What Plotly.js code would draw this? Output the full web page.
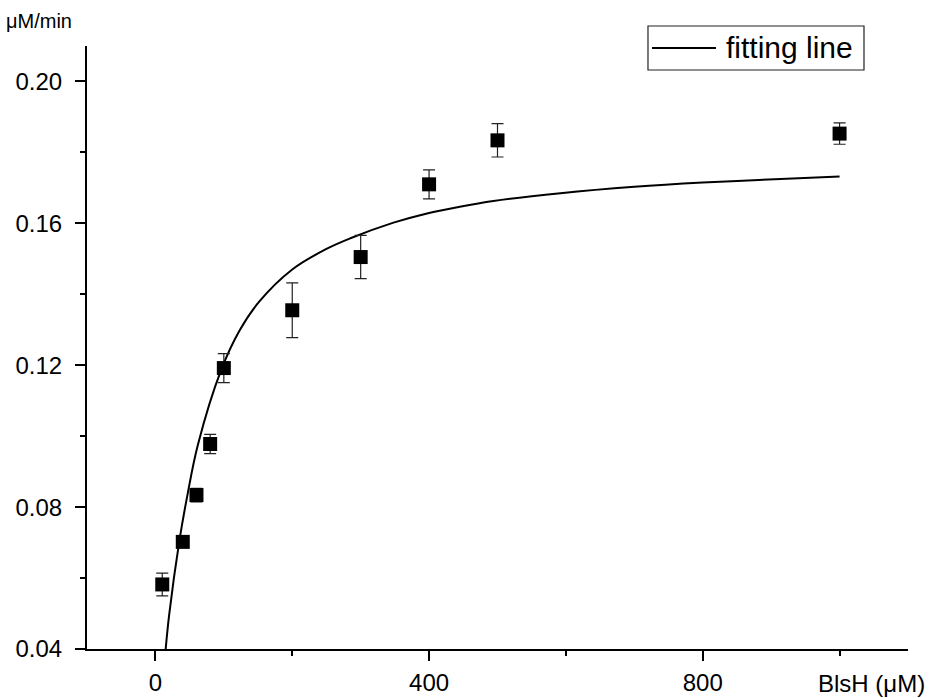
<!DOCTYPE html>
<html>
<head>
<meta charset="utf-8">
<script src="https://cdn.plot.ly/plotly-3.0.1.min.js"></script>
<style>html,body{margin:0;padding:0;background:#fff;}#chart{width:931px;height:698px;}</style>
</head>
<body>
<div id="chart"></div>
<script>
// Measured data (BlsH concentration, µM) and initial rate (µM/min)
const conc = [10, 40, 60, 80, 100, 200, 300, 400, 500, 1000];
const rate = [0.0582, 0.0702, 0.0834, 0.0978, 0.1192, 0.1355, 0.1505, 0.1710, 0.1834, 0.1853];
const rateErr = [0.0032, 0.0015, 0.0019, 0.0027, 0.0041, 0.0077, 0.0061, 0.0041, 0.0047, 0.0030];

// Fitting line
const fitX = [15, 20, 35, 47, 62, 96, 123, 152, 200, 250, 285, 348, 397, 445, 494, 592, 700, 800, 914, 1000];
const fitY = [0.0400, 0.0495, 0.0705, 0.0836, 0.0975, 0.1186, 0.1298, 0.1380, 0.1470, 0.1528, 0.1558, 0.1602, 0.1628, 0.1647, 0.1663, 0.1685, 0.1703, 0.1715, 0.1725, 0.1732];

const xTickVals = [0, 400, 800];
const xTickText = ['0', '400', '800'];
const yTickVals = [0.04, 0.08, 0.12, 0.16, 0.20];
const yTickText = ['0.04', '0.08', '0.12', '0.16', '0.20'];

const FONT = 'Liberation Sans, Arial, sans-serif';

const traces = [
  {
    x: fitX, y: fitY, type: 'scatter', mode: 'lines', name: 'fitting line',
    line: {color: '#000', width: 2, shape: 'spline', smoothing: 1},
    showlegend: false, hoverinfo: 'skip'
  },
  {
    x: conc, y: rate, type: 'scatter', mode: 'markers', name: 'data',
    marker: {symbol: 'square', size: 14, color: '#000'},
    error_y: {type: 'data', array: rateErr, visible: true, color: '#222', thickness: 1.2, width: 6},
    showlegend: false
  }
];

const layout = {
  width: 931, height: 698,
  margin: {l: 87, r: 23, t: 46, b: 49},
  paper_bgcolor: '#fff', plot_bgcolor: '#fff',
  font: {family: FONT, color: '#000', size: 24},
  showlegend: false,
  xaxis: {
    range: [-100, 1100], showgrid: false, zeroline: false,
    showline: true, linecolor: '#000', linewidth: 2,
    tickmode: 'array', tickvals: xTickVals, ticktext: xTickText,
    ticks: 'outside', ticklen: 10, tickwidth: 2, tickcolor: '#000',
    ticklabelstandoff: 1,
    tickfont: {family: FONT, size: 24, color: '#000'},
    minor: {tickmode: 'array', tickvals: [200, 600, 1000], ticks: 'outside', ticklen: 5, tickwidth: 2, tickcolor: '#000'}
  },
  yaxis: {
    range: [0.04, 0.21], showgrid: false, zeroline: false,
    showline: true, linecolor: '#000', linewidth: 2,
    tickmode: 'array', tickvals: yTickVals, ticktext: yTickText,
    ticks: 'outside', ticklen: 10, tickwidth: 2, tickcolor: '#000',
    ticklabelstandoff: 8,
    tickfont: {family: FONT, size: 24, color: '#000'},
    minor: {tickmode: 'array', tickvals: [0.06, 0.10, 0.14, 0.18], ticks: 'outside', ticklen: 5, tickwidth: 2, tickcolor: '#000'}
  },
  shapes: [
    {type: 'rect', xref: 'paper', yref: 'paper', x0: 0.6833, x1: 0.9464, y0: 0.9602, y1: 1.0332,
     line: {color: '#222', width: 1.2}, fillcolor: 'rgba(0,0,0,0)'},
    {type: 'line', xref: 'paper', yref: 'paper', x0: 0.6882, x1: 0.7661, y0: 0.9967, y1: 0.9967,
     line: {color: '#000', width: 2}}
  ],
  annotations: [
    {text: 'fitting line', xref: 'paper', yref: 'paper', x: 0.7771, y: 0.9967,
     xanchor: 'left', yanchor: 'middle', showarrow: false, borderpad: 0,
     font: {family: FONT, size: 30, color: '#000'}},
    {text: 'μM/min', xref: 'paper', yref: 'paper', x: -0.1012, y: 1.0415,
     xanchor: 'left', yanchor: 'middle', showarrow: false,
     font: {family: FONT, size: 20, color: '#000'}},
    {text: 'BlsH (μM)', xref: 'paper', yref: 'paper', x: 1.0231, y: -0.058,
     xanchor: 'right', yanchor: 'middle', showarrow: false,
     font: {family: FONT, size: 24, color: '#000'}}
  ]
};

Plotly.newPlot('chart', traces, layout, {displayModeBar: false, staticPlot: true});
</script>
</body>
</html>
